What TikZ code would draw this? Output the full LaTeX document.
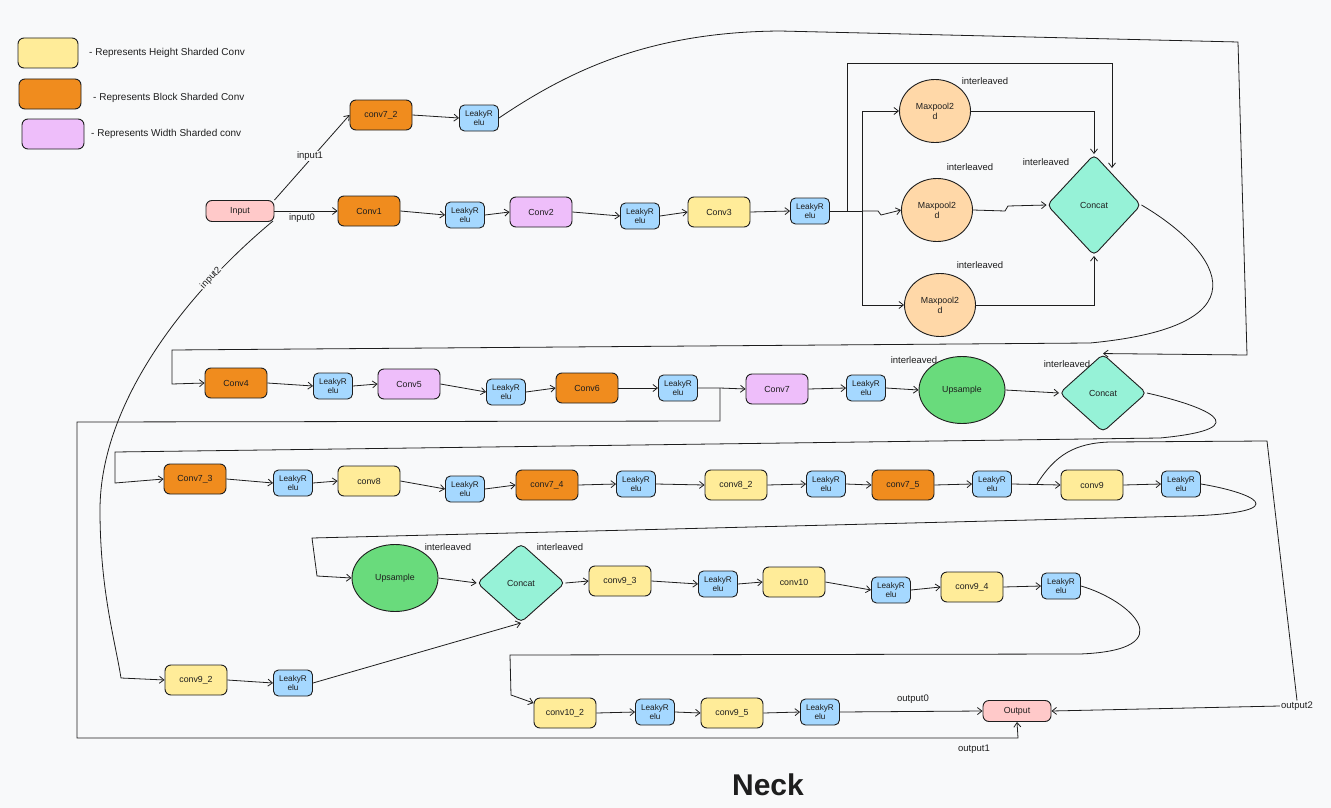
\documentclass[tikz,border=0pt]{standalone}
\usepackage{fontspec}
\setmainfont{Liberation Sans}
\usetikzlibrary{arrows.meta,shapes.geometric}
\definecolor{bg}{HTML}{F8F9FA}
\definecolor{hcol}{HTML}{FFEC99}
\definecolor{bcol}{HTML}{F08C1E}
\definecolor{wcol}{HTML}{EEBEFA}
\definecolor{lcol}{HTML}{A5D8FF}
\definecolor{iocol}{HTML}{FFC9C9}
\definecolor{mpcol}{HTML}{FFD8A8}
\definecolor{cccol}{HTML}{96F2D7}
\definecolor{upcol}{HTML}{69DB7C}
\definecolor{ink}{HTML}{1E1E1E}
\tikzset{
  base/.style={draw=ink, line width=0.9pt, text=ink, inner sep=1pt, align=center, font=\fontsize{8.8}{9.8}\selectfont},
  box/.style={base, rounded corners=6pt, minimum width=62pt, minimum height=30pt},
  hbox/.style={box, fill=hcol},
  bbox/.style={box, fill=bcol},
  wbox/.style={box, fill=wcol},
  lrbox/.style={base, fill=lcol, rounded corners=5pt, minimum width=39pt, minimum height=26pt, font=\fontsize{8.2}{8.8}\selectfont},
  iobox/.style={box, fill=iocol, minimum width=68pt, minimum height=21pt},
  mpool/.style={base, ellipse, fill=mpcol, minimum width=71pt, minimum height=63pt},
  upsm/.style={base, ellipse, fill=upcol, minimum width=86pt, minimum height=67pt},
  ccat/.style={base, diamond, fill=cccol, rounded corners=5pt, inner sep=0pt},
  legbox/.style={draw=ink, line width=0.9pt, rounded corners=6pt},
  ln/.style={draw=ink, line width=0.8pt},
  arr/.style={ln, -{Straight Barb[length=4.5pt,width=7pt]}},
  lbl/.style={text=ink, inner sep=1pt, font=\fontsize{9.5}{10.5}\selectfont},
  flbl/.style={lbl, fill=bg},
  leglbl/.style={text=ink, inner sep=1pt, font=\fontsize{10}{11}\selectfont},
}
\begin{document}
\begin{tikzpicture}[x=1pt,y=-1pt]
\fill[bg] (0,0) rectangle (1331,808);
\useasboundingbox (0,0) rectangle (1331,808);

% legend
\draw[legbox, fill=hcol] (18,38) rectangle (78,68);
\draw[legbox, fill=bcol] (19,79) rectangle (81,109);
\draw[legbox, fill=wcol] (22,119) rectangle (84,149);
\node[leglbl, anchor=west] (leg1) at (88,53) {- Represents Height Sharded Conv};
\node[leglbl, anchor=west] (leg2) at (92,98) {- Represents Block Sharded Conv};
\node[leglbl, anchor=west] (leg3) at (90,134) {- Represents Width Sharded conv};

% row 1
\node[iobox] (in) at (240,211) {Input};
\node[bbox] (c72) at (381,115) {conv7\_2};
\node[lrbox] (l72) at (479,118) {LeakyR\\elu};
\node[bbox] (c1) at (369,211) {Conv1};
\node[lrbox] (l1) at (465,215) {LeakyR\\elu};
\node[wbox] (c2) at (541,212) {Conv2};
\node[lrbox] (l2) at (640,216) {LeakyR\\elu};
\node[hbox] (c3) at (719,212) {Conv3};
\node[lrbox] (l3) at (810,211) {LeakyR\\elu};
\node[mpool] (mp1) at (935,111) {Maxpool2\\d};
\node[mpool] (mp2) at (937,210) {Maxpool2\\d};
\node[mpool] (mp3) at (940,305) {Maxpool2\\d};
\node[ccat, minimum width=94pt, minimum height=101pt] (cc1) at (1094,205) {Concat};

% row 2
\node[bbox] (c4) at (236,383) {Conv4};
\node[lrbox] (l4) at (333,386) {LeakyR\\elu};
\node[wbox] (c5) at (409,384) {Conv5};
\node[lrbox] (l5) at (506,392) {LeakyR\\elu};
\node[bbox] (c6) at (587,388) {Conv6};
\node[lrbox] (l6) at (678,388) {LeakyR\\elu};
\node[wbox] (c7) at (777,389) {Conv7};
\node[lrbox] (l7) at (866,388) {LeakyR\\elu};
\node[upsm] (up1) at (962,390) {Upsample};
\node[ccat, minimum width=87pt, minimum height=78pt] (cc2) at (1103,393) {Concat};

% row 3
\node[bbox] (c73) at (195,479) {Conv7\_3};
\node[lrbox] (l8) at (293,483) {LeakyR\\elu};
\node[hbox] (c8) at (369,481) {conv8};
\node[lrbox] (l9) at (465,489) {LeakyR\\elu};
\node[bbox] (c74) at (547,485) {conv7\_4};
\node[lrbox] (l10) at (636,484) {LeakyR\\elu};
\node[hbox] (c82) at (736,485) {conv8\_2};
\node[lrbox] (l11) at (826,484) {LeakyR\\elu};
\node[bbox] (c75) at (903,485) {conv7\_5};
\node[lrbox] (l12) at (992,484) {LeakyR\\elu};
\node[hbox] (c9) at (1092,485) {conv9};
\node[lrbox] (l13) at (1181,484) {LeakyR\\elu};

% row 4
\node[upsm] (up2) at (395,578) {Upsample};
\node[ccat, minimum width=88pt, minimum height=79pt] (cc3) at (521,583) {Concat};
\node[hbox] (c93) at (620,581) {conv9\_3};
\node[lrbox] (l14) at (718,584) {LeakyR\\elu};
\node[hbox] (c10) at (794,582) {conv10};
\node[lrbox] (l15) at (891,590) {LeakyR\\elu};
\node[hbox] (c94) at (972,587) {conv9\_4};
\node[lrbox] (l16) at (1061,586) {LeakyR\\elu};
\node[hbox] (c92) at (196,680) {conv9\_2};
\node[lrbox] (l17) at (293,683) {LeakyR\\elu};

% row 5
\node[hbox] (c102) at (565,713) {conv10\_2};
\node[lrbox] (l18) at (655,712) {LeakyR\\elu};
\node[hbox] (c95) at (732,713) {conv9\_5};
\node[lrbox] (l19) at (820,712) {LeakyR\\elu};
\node[iobox] (out) at (1017,711) {Output};

% ---- connectors ----
% row 1
\draw[arr] (in.north east) -- (c72.west);
\draw[arr] (in.east) -- (c1.west);
\draw[arr] (c72.east) -- (l72.west);
\draw[arr] (c1.east) -- (l1.west);
\draw[arr] (l1.east) -- (c2.west);
\draw[arr] (c2.east) -- (l2.west);
\draw[arr] (l2.east) -- (c3.west);
\draw[arr] (c3.east) -- (l3.west);
\coordinate (s1) at (847,211);
\coordinate (s2) at (862,211);
\draw[ln] (l3.east) -- (s2);
\draw[arr] (s1) -- (847,63) -- (1112,63) -- (1112,168);
\draw[arr] (s2) |- (mp1.west);
\draw[arr] (s2) |- (mp3.west);
\draw[arr] (s2) -- (878,211) -- (881,215) -- (mp2.west);
\draw[arr] (mp1.east) -| (cc1.north);
\draw[arr] (mp3.east) -| (cc1.south);
\draw[arr] (mp2.east) -- (1005,211) -- (1008,206) -- (cc1.west);

% conv7_2 branch over the top to concat of row 2
\draw[arr] (l72.east) .. controls (570,70) and (650,32) .. (780,31) -- (1238,42) -- (1247,355) -- (cc2.north);

% row 1 -> row 2
\draw[arr] (cc1.east) .. controls (1210,245) and (1280,325) .. (1090,343) -- (172,350) -- (172,384) -- (c4.west);

% row 2
\draw[arr] (c4.east) -- (l4.west);
\draw[arr] (l4.east) -- (c5.west);
\draw[arr] (c5.east) -- (l5.west);
\draw[arr] (l5.east) -- (c6.west);
\draw[arr] (c6.east) -- (l6.west);
\coordinate (s3) at (720,388);
\draw[arr] (l6.east) -- (s3) -- (c7.west);
\draw[arr] (c7.east) -- (l7.west);
\draw[arr] (l7.east) -- (up1.west);
\draw[arr] (up1.east) -- (cc2.west);

% output1
\draw[arr] (s3) -- (720,421) -- (77,422) -- (77,738) -- (1018,738) -- (out.south);

% row 2 -> row 3
\draw[arr] (cc2.east) .. controls (1200,405) and (1265,428) .. (1160,438) -- (115,452) -- (115,483) -- (c73.west);

% row 3
\draw[arr] (c73.east) -- (l8.west);
\draw[arr] (l8.east) -- (c8.west);
\draw[arr] (c8.east) -- (l9.west);
\draw[arr] (l9.east) -- (c74.west);
\draw[arr] (c74.east) -- (l10.west);
\draw[arr] (l10.east) -- (c82.west);
\draw[arr] (c82.east) -- (l11.west);
\draw[arr] (l11.east) -- (c75.west);
\draw[arr] (c75.east) -- (l12.west);
\draw[arr] (l12.east) -- (c9.west);
\draw[arr] (c9.east) -- (l13.west);

% output2
\coordinate (s4) at (1037,484);
\node[flbl] (o2) at (1297,706) {output2};
\draw[ln] (s4) .. controls (1055,455) and (1075,443) .. (1110,442) -- (1267,441) -- (o2.north);
\draw[arr] (o2.west) -- (out.east);

% row 3 -> row 4
\draw[arr] (l13.east) .. controls (1250,492) and (1300,512) .. (1190,516) -- (312,538) -- (317,576) -- (up2.west);

% row 4
\draw[arr] (up2.east) -- (cc3.west);
\draw[arr] (cc3.east) -- (c93.west);
\draw[arr] (c93.east) -- (l14.west);
\draw[arr] (l14.east) -- (c10.west);
\draw[arr] (c10.east) -- (l15.west);
\draw[arr] (l15.east) -- (c94.west);
\draw[arr] (c94.east) -- (l16.west);
\draw[arr] (c92.east) -- (l17.west);
\draw[arr] (l17.east) -- (cc3.south);

% input2
\draw[arr] (273,221) .. controls (190,290) and (100,400) .. (100,510) .. controls (100,590) and (115,640) .. (121,678) -- (c92.west);

% row 4 -> row 5
\draw[arr] (l16.east) .. controls (1130,600) and (1185,650) .. (1080,654) -- (510,655) -- (511,695) -- ([yshift=10pt]c102.west);

% row 5
\draw[arr] (c102.east) -- (l18.west);
\draw[arr] (l18.east) -- (c95.west);
\draw[arr] (c95.east) -- (l19.west);
\draw[arr] (l19.east) -- (out.west);

% labels
\node[flbl] (i1) at (310,156) {input1};
\node[lbl] (i0) at (302,218) {input0};
\node[flbl, rotate=47] (i2) at (211,278) {input2};
\node[lbl] (o0) at (913,699) {output0};
\node[lbl] (o1) at (974,749) {output1};
\node[lbl] (il1) at (985,81) {interleaved};
\node[lbl] (il2) at (970,167) {interleaved};
\node[lbl] (il3) at (980,265) {interleaved};
\node[lbl] (il4) at (1046,162) {interleaved};
\node[lbl] (il5) at (914,360) {interleaved};
\node[lbl] (il6) at (1067,364) {interleaved};
\node[lbl] (il7) at (448,547) {interleaved};
\node[lbl] (il8) at (560,547) {interleaved};

\node[text=ink, font=\bfseries\fontsize{30}{34}\selectfont] (title) at (768,785) {Neck};
\end{tikzpicture}
\end{document}
